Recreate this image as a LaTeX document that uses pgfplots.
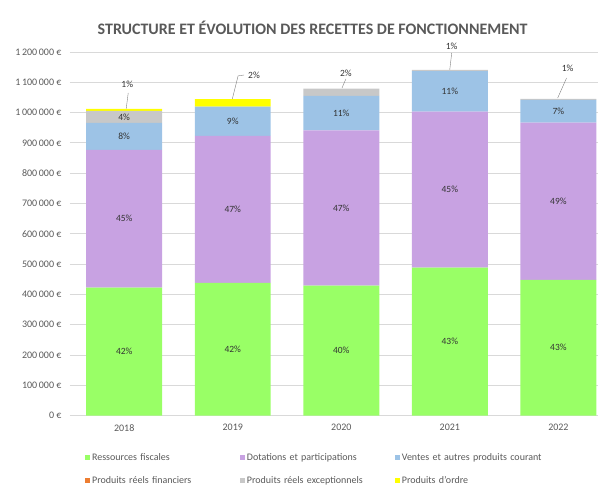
\documentclass[border=0pt]{standalone}
\usepackage{fontspec}
\setmainfont{Carlito}
\usepackage{pgfplots}
\usepackage{pgfplotstable}
\pgfplotsset{compat=1.18}

\definecolor{cfisc}{HTML}{99FF66}
\definecolor{cdot}{HTML}{C8A2E2}
\definecolor{cvente}{HTML}{9DC3E6}
\definecolor{cfin}{HTML}{ED7D31}
\definecolor{cexc}{HTML}{C8C8C8}
\definecolor{cordre}{HTML}{FFFF00}
\definecolor{txt}{HTML}{595959}
\definecolor{gridc}{HTML}{D9D9D9}

% recettes de fonctionnement (EUR)
\pgfplotstableread{
x fisc dot vente fin exc ordre
0 422000 455000 89000 0 40000 6000
1 438000 485000 97000 0 0 24000
2 429000 512000 114000 0 24000 0
3 488000 515000 134000 0 4000 0
4 448000 519000 75000 0 3000 0
}\recettes

\begin{document}
\begin{tikzpicture}[lab/.style={font=\fontsize{9.5}{11}\selectfont, text=black!80}]
\begin{axis}[
    name=ax,
    scale only axis, width=528pt, height=364pt,
    ybar stacked, bar width=76pt,
    xmin=-0.5, xmax=4.36, ymin=0, ymax=1200000,
    xtick={0,1,2,3,4}, xticklabels={2018,2019,2020,2021,2022},
    ytick={0,100000,...,1200000},
    scaled y ticks=false,
    yticklabel={\pgfmathprintnumber{\tick}~€},
    ymajorgrids, grid style={draw=gridc, line width=0.8pt},
    axis x line*=bottom, axis y line*=left,
    y axis line style={draw=none},
    x axis line style={draw=gridc, line width=1pt},
    major tick length=0pt,
    tick label style={font=\fontsize{10}{11}\selectfont, text=txt},
    yticklabel style={xshift=-5pt},
    xticklabel style={yshift=-5pt},
    clip=false,
    title={STRUCTURE ET ÉVOLUTION DES RECETTES DE FONCTIONNEMENT},
    title style={font=\bfseries\fontsize{16}{18}\selectfont, text=txt,
        at={(0.46,1)}, anchor=center, yshift=18pt},
    legend columns=3,
    legend image code/.code={\fill[#1] (0pt,-2.5pt) rectangle (5pt,2.5pt);},
    legend style={at={(0.0227,-0.093)}, anchor=north west, draw=none, fill=none,
        font=\fontsize{10}{11}\selectfont, text=txt, row sep=10pt,
        /tikz/every even column/.append style={text width=146pt}},
    legend cell align=left,
    /pgf/number format/.cd, fixed, 1000 sep={\,}, assume math mode=true,
]
\addplot[fill=cfisc, draw=none] table[x=x, y=fisc] {\recettes};
\addlegendentry{Ressources fiscales}
\addplot[fill=cdot, draw=none] table[x=x, y=dot] {\recettes};
\addlegendentry{Dotations et participations}
\addplot[fill=cvente, draw=none] table[x=x, y=vente] {\recettes};
\addlegendentry{Ventes et autres produits courant}
\addplot[fill=cfin, draw=none] table[x=x, y=fin] {\recettes};
\addlegendentry{Produits réels financiers}
\addplot[fill=cexc, draw=none] table[x=x, y=exc] {\recettes};
\addlegendentry{Produits réels exceptionnels}
\addplot[fill=cordre, draw=none] table[x=x, y=ordre] {\recettes};
\addlegendentry{Produits d'ordre}

% positions des étiquettes (milieu de chaque segment)
\coordinate (a0) at (axis cs:0,211000);
\coordinate (b0) at (axis cs:0,649500);
\coordinate (c0) at (axis cs:0,921500);
\coordinate (d0) at (axis cs:0,986000);
\coordinate (a1) at (axis cs:1,219000);
\coordinate (b1) at (axis cs:1,680500);
\coordinate (c1) at (axis cs:1,971500);
\coordinate (a2) at (axis cs:2,214500);
\coordinate (b2) at (axis cs:2,685000);
\coordinate (c2) at (axis cs:2,998000);
\coordinate (a3) at (axis cs:3,244000);
\coordinate (b3) at (axis cs:3,745500);
\coordinate (c3) at (axis cs:3,1070000);
\coordinate (a4) at (axis cs:4,224000);
\coordinate (b4) at (axis cs:4,707500);
\coordinate (c4) at (axis cs:4,1004500);

% petites parts avec lignes de rappel
\draw[gray] (axis cs:0.018,1012000) -- (axis cs:0.037,1065000);
\node[lab] at (axis cs:0.028,1094600) {1\%};
\draw[gray] (axis cs:0.994,1042000) -- (axis cs:1.049,1121000) -- (axis cs:1.104,1124000);
\node[lab, anchor=west] at (axis cs:1.11,1124000) {2\%};
\draw[gray] (axis cs:2.006,1081000) -- (axis cs:2.042,1111000);
\node[lab] at (axis cs:2.042,1128000) {2\%};
\draw[gray] (axis cs:2.999,1141000) -- (axis cs:3.017,1197000);
\node[lab] at (axis cs:3.017,1220000) {1\%};
\draw[gray] (axis cs:3.993,1048000) -- (axis cs:4.075,1114000);
\node[lab] at (axis cs:4.085,1147000) {1\%};
\end{axis}

\node[lab] at (a0) {42\%};
\node[lab] at (b0) {45\%};
\node[lab] at (c0) {8\%};
\node[lab] at (d0) {4\%};
\node[lab] at (a1) {42\%};
\node[lab] at (b1) {47\%};
\node[lab] at (c1) {9\%};
\node[lab] at (a2) {40\%};
\node[lab] at (b2) {47\%};
\node[lab] at (c2) {11\%};
\node[lab] at (a3) {43\%};
\node[lab] at (b3) {45\%};
\node[lab] at (c3) {11\%};
\node[lab] at (a4) {43\%};
\node[lab] at (b4) {49\%};
\node[lab] at (c4) {7\%};

\path (ax.south west) ++(-70pt,-68pt);
\path (ax.north east) ++(0pt,52pt);
\end{tikzpicture}
\end{document}
